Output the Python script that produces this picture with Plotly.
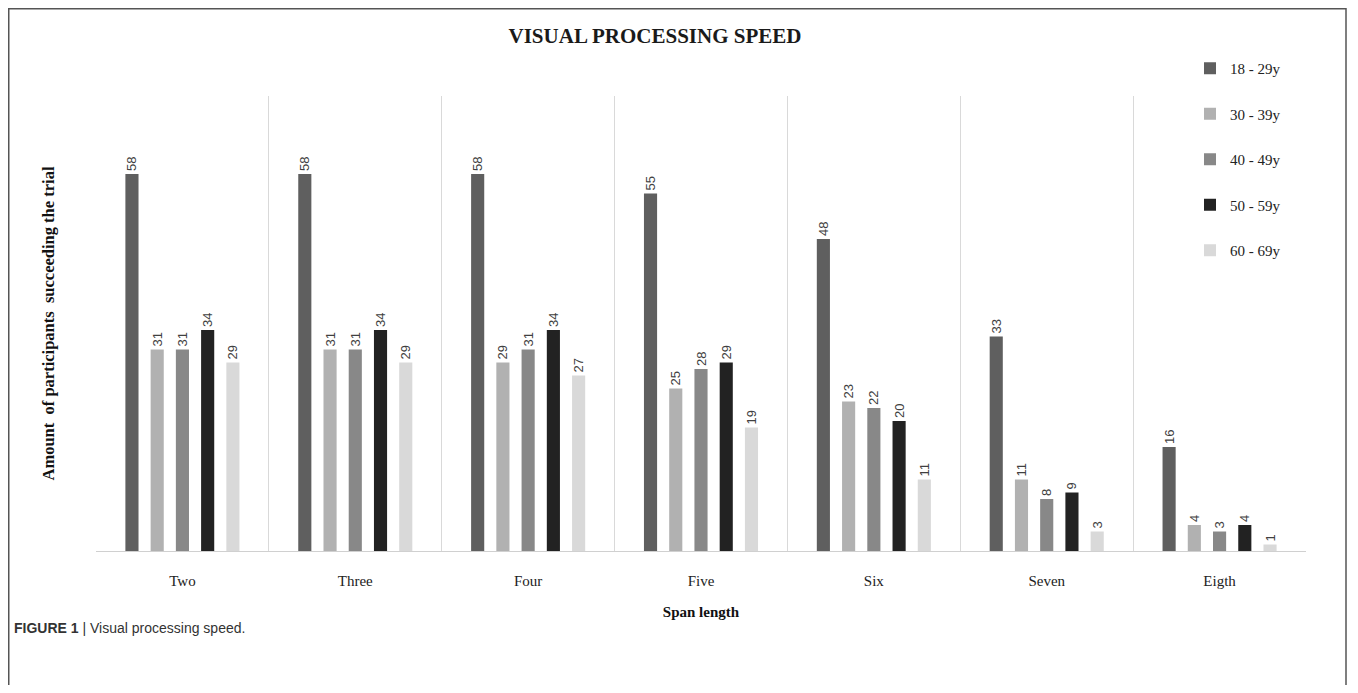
import plotly.graph_objects as go

categories = ["Two", "Three", "Four", "Five", "Six", "Seven", "Eigth"]
series_names = ["18 - 29y", "30 - 39y", "40 - 49y", "50 - 59y", "60 - 69y"]
age_18_29 = [58, 58, 58, 55, 48, 33, 16]
age_30_39 = [31, 31, 29, 25, 23, 11, 4]
age_40_49 = [31, 31, 31, 28, 22, 8, 3]
age_50_59 = [34, 34, 34, 29, 20, 9, 4]
age_60_69 = [29, 29, 27, 19, 11, 3, 1]
series_values = [age_18_29, age_30_39, age_40_49, age_50_59, age_60_69]
colors = ["#5f5f5f", "#b1b1b1", "#888888", "#222222", "#d9d9d9"]

# page has an 8px body margin: figure is drawn at offset (8, 8) in the window
OFF = 8
W, H = 1358 - OFF, 693 - 2 * OFF
# plot area in window pixels: x 96..1306, y 96..551
L = 96 - OFF
R = W - (1306 - OFF)
T = 96 - OFF
B = H - (551 - OFF)
pw, ph = W - L - R, H - T - B

def px_x(x):
    return (x - OFF - L) / pw

def px_y(y):
    return (H - B - (y - OFF)) / ph

fig = go.Figure()
for name, vals, col in zip(series_names, series_values, colors):
    fig.add_trace(go.Bar(
        x=categories, y=vals, name=name, legendgroup=name,
        marker=dict(color=col, line=dict(width=0)),
        text=[str(v) for v in vals], textposition="outside", textangle=-90,
        constraintext="none", cliponaxis=False,
        textfont=dict(family="Liberation Sans", size=13, color="#404040"),
    ))

serif = "Liberation Serif"
fig.update_layout(
    width=W, height=H,
    margin=dict(l=L, r=R, t=T, b=B),
    paper_bgcolor="white", plot_bgcolor="white",
    barmode="group", bargap=0.27, bargroupgap=0.48,
    title=dict(text="<b>VISUAL PROCESSING SPEED</b>", x=(655 - OFF) / W, xref="container",
               xanchor="center", y=1 - (36 - OFF) / H, yref="container", yanchor="middle",
               font=dict(family=serif, size=21, color="#1a1a1a")),
    legend=dict(x=px_x(1190), y=px_y(52), xanchor="left", yanchor="top",
                font=dict(family=serif, size=15, color="#222222"),
                tracegroupgap=23, bgcolor="rgba(0,0,0,0)", itemwidth=30),
    showlegend=True,
    font=dict(family=serif, color="#222222"),
)
fig.update_xaxes(
    type="category", tickson="boundaries", showgrid=True, gridcolor="#d9d9d9", gridwidth=1,
    showline=True, linecolor="#d0d0d0", linewidth=1, ticks="", ticklabelstandoff=16,
    tickfont=dict(family=serif, size=15, color="#222222"),
    title=dict(text="<b>Span length</b>", standoff=18,
               font=dict(family=serif, size=15, color="#111111")),
)
fig.update_yaxes(
    range=[0, 70], showgrid=False, showticklabels=False, zeroline=False, ticks="",
    showline=False,
    title=dict(text="<b>Amount  of participants  succeeding the trial</b>", standoff=36,
               font=dict(family=serif, size=16.5, color="#111111")),
)
fig.add_shape(type="rect", xref="paper", yref="paper",
              x0=px_x(OFF + 0.75), x1=px_x(1346), y0=px_y(H + 40), y1=px_y(OFF + 0.75),
              line=dict(color="#555555", width=1.5), fillcolor="rgba(0,0,0,0)", layer="below")
fig.add_annotation(xref="paper", yref="paper", x=px_x(12), y=px_y(628),
                   xanchor="left", yanchor="middle", showarrow=False,
                   text="<b>FIGURE 1</b> | Visual processing speed.",
                   font=dict(family="Liberation Sans", size=14, color="#333333"))
fig.write_html("out.html")
